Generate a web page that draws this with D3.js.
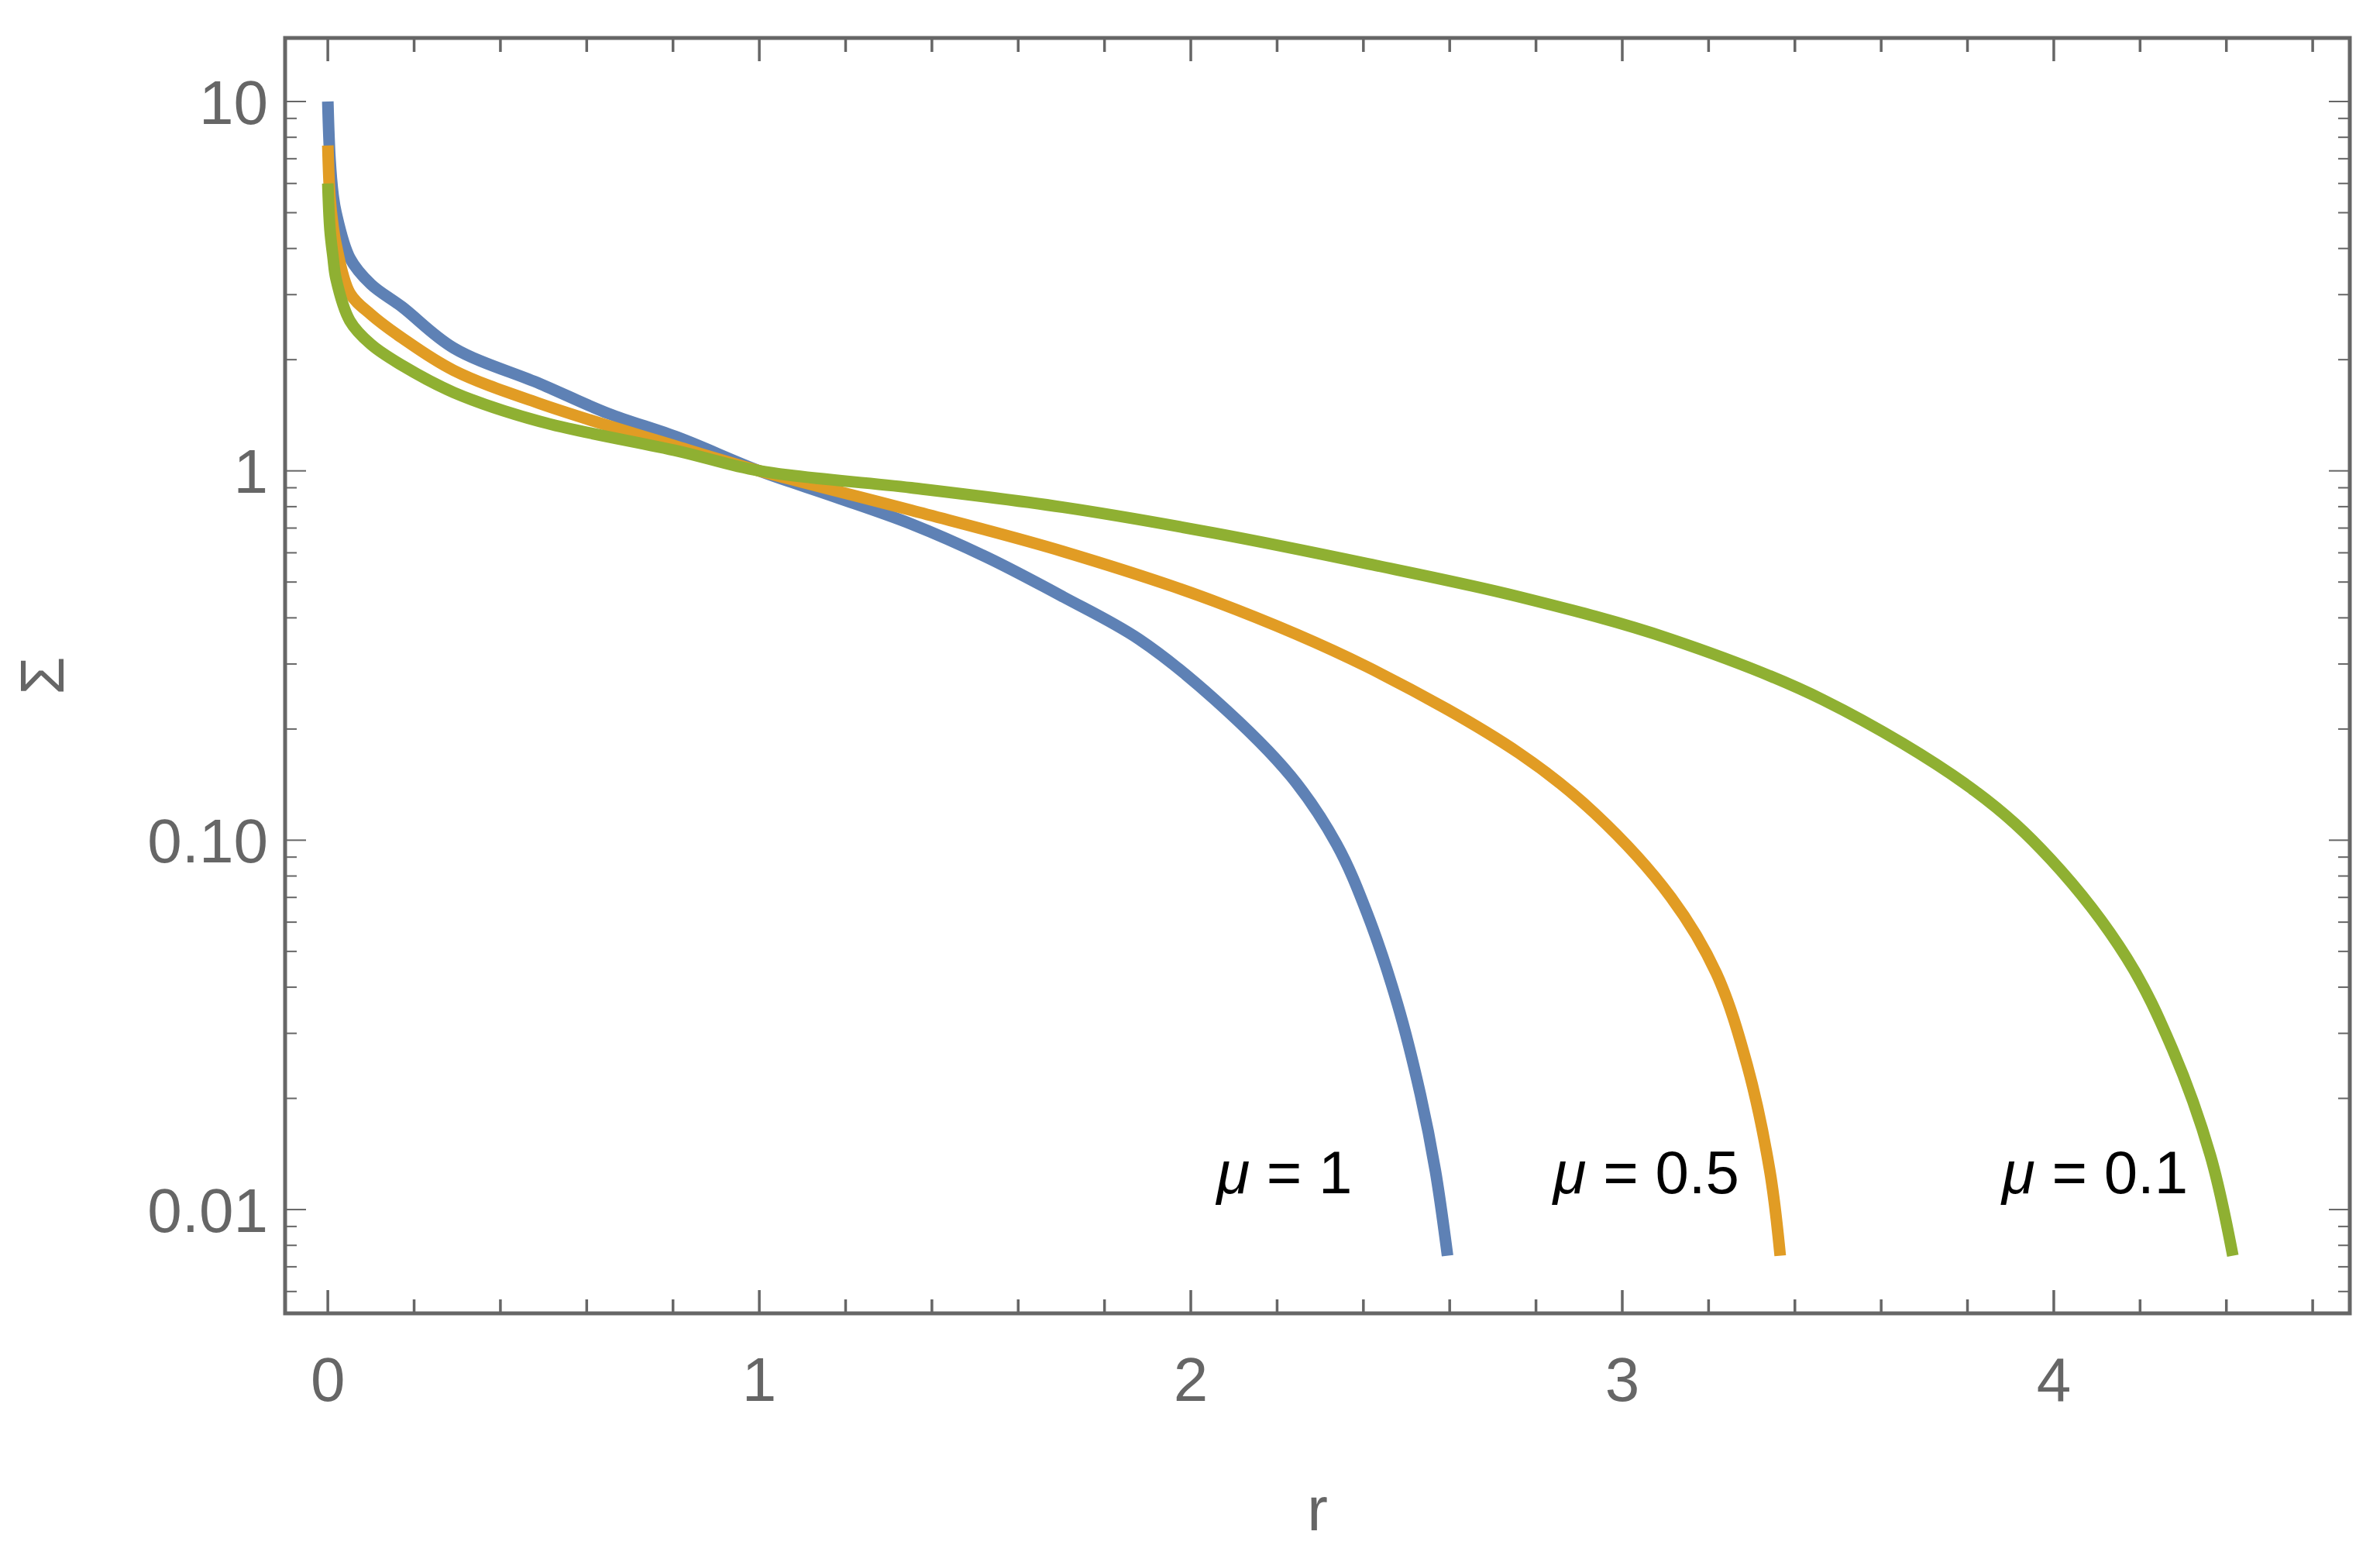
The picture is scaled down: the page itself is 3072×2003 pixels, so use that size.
<!DOCTYPE html>
<html><head><meta charset="utf-8">
<script src="https://cdn.jsdelivr.net/npm/d3@7"></script>
<style>body{margin:0;background:#fff}</style>
</head><body>
<script>
// values (r, Sigma)
const blueR  = [0,0.005,0.012,0.019,0.051,0.1,0.172,0.292,0.492,0.65,0.813,1,1.176,1.352,1.528,1.704,1.880,2.056,2.232,2.338,2.408,2.479,2.532,2.567,2.595];
const blueS  = [10,7.0,5.6,5.0,3.77,3.2,2.78,2.15,1.72,1.43,1.23,1,0.85,0.718,0.583,0.456,0.35,0.24,0.149,0.0975,0.0637,0.036,0.0205,0.0127,0.0075];
const orangeR = [0,0.005,0.012,0.019,0.051,0.1,0.172,0.292,0.492,0.813,1,1.352,1.704,2.056,2.408,2.761,2.937,3.113,3.218,3.289,3.342,3.366];
const orangeS = [7.6,5.5,4.6,4.11,3.03,2.65,2.29,1.87,1.52,1.16,1,0.782,0.605,0.443,0.295,0.172,0.118,0.07,0.0436,0.0247,0.0127,0.0075];
const greenR = [0,0.005,0.012,0.019,0.051,0.1,0.172,0.292,0.492,0.813,1,1.352,1.704,2.056,2.408,2.761,3.113,3.465,3.817,3.993,4.169,4.275,4.363,4.415];
const greenS = [6.0,4.5,3.8,3.31,2.55,2.2,1.93,1.63,1.36,1.13,1,0.90,0.797,0.678,0.561,0.456,0.35,0.24,0.136,0.0887,0.048,0.0272,0.014,0.0075];
const seriesColors = ['#5E81B5','#E19C24','#8FB032'];
const labels = [['μ',' = 1',2.06],['μ',' = 0.5',2.84],['μ',' = 0.1',3.88]];
const yTickLabels = [[10,'10'],[1,'1'],[0.1,'0.10'],[0.01,'0.01']];
const xTickLabels = [0,1,2,3,4];

const W = 3072, H = 2003;
const L = 368, R = 3033, T = 49, B = 1695;
const ax = '#666';
const svg = d3.select('body').append('svg').attr('width', W).attr('height', H);
const x = d3.scaleLinear().domain([-0.099, 4.686]).range([L, R]);
const y = d3.scaleLog().domain([Math.pow(10,-2.281), Math.pow(10,1.172)]).range([B, T]);

const g = svg.append('g');
// minor/major ticks on all sides
d3.range(0, 4.61, 0.2).forEach(v => {
  const major = Math.abs(v - Math.round(v)) < 1e-6;
  const len = major ? 30 : 18;
  g.append('line').attr('x1', x(v)).attr('x2', x(v)).attr('y1', B).attr('y2', B - len).attr('stroke', ax).attr('stroke-width', 3.5);
  g.append('line').attr('x1', x(v)).attr('x2', x(v)).attr('y1', T).attr('y2', T + len).attr('stroke', ax).attr('stroke-width', 3.5);
});
const yMinor = [];
for (let e = -3; e <= 1; e++) for (let m = 1; m <= 9; m++) {
  const v = m * Math.pow(10, e);
  if (v >= y.domain()[0] && v <= y.domain()[1]) yMinor.push([v, m === 1]);
}
yMinor.forEach(([v, major]) => {
  const len = major ? 27 : 15;
  g.append('line').attr('x1', L).attr('x2', L + len).attr('y1', y(v)).attr('y2', y(v)).attr('stroke', ax).attr('stroke-width', 2);
  g.append('line').attr('x1', R).attr('x2', R - len).attr('y1', y(v)).attr('y2', y(v)).attr('stroke', ax).attr('stroke-width', 2);
});

const line = d3.line().x(d => x(d[0])).y(d => y(d[1])).curve(d3.curveCatmullRom.alpha(0.5));
[[blueR, blueS], [orangeR, orangeS], [greenR, greenS]].forEach(([rs, ss], i) => {
  const pts = rs.map((r, k) => [r, ss[k]]);
  svg.append('path').attr('d', line(pts)).attr('fill', 'none')
    .attr('stroke', seriesColors[i]).attr('stroke-width', 15);
});

svg.append('rect').attr('x', L).attr('y', T).attr('width', R - L).attr('height', B - T)
  .attr('fill', 'none').attr('stroke', ax).attr('stroke-width', 5);

const font = 'Liberation Sans, Arial, sans-serif';
yTickLabels.forEach(([v, t]) => {
  svg.append('text').attr('x', L - 22).attr('y', y(v)).attr('dy', '0.36em')
    .attr('text-anchor', 'end').attr('font-family', font).attr('font-size', 80).attr('fill', ax).text(t);
});
xTickLabels.forEach(v => {
  svg.append('text').attr('x', x(v)).attr('y', 1808).attr('text-anchor', 'middle')
    .attr('font-family', font).attr('font-size', 80).attr('fill', ax).text(v);
});
svg.append('text').attr('x', (L + R) / 2).attr('y', 1975).attr('text-anchor', 'middle')
  .attr('font-family', font).attr('font-size', 80).attr('fill', ax).text('r');
svg.append('text').attr('transform', `translate(82,${(T + B) / 2}) rotate(-90)`).attr('text-anchor', 'middle')
  .attr('font-family', font).attr('font-size', 80).attr('fill', ax).text('Σ');

labels.forEach(([m, rest, xv]) => {
  const t = svg.append('text').attr('x', x(xv)).attr('y', 1540)
    .attr('font-family', font).attr('font-size', 78).attr('fill', '#000');
  t.append('tspan').attr('font-style', 'italic').text(m);
  t.append('tspan').text(rest);
});
</script>
</body></html>
